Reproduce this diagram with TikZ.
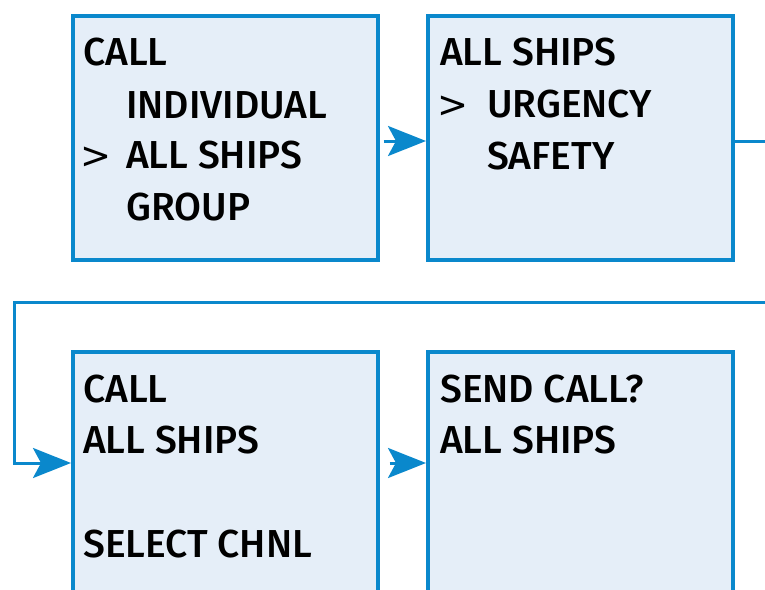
\documentclass[tikz,border=0pt]{standalone}
\usepackage{fontspec}
\setmainfont{Fira Sans}[UprightFont={* Medium}]
\newfontfamily\gtfont{DejaVu Sans}
\usetikzlibrary{arrows.meta}
\definecolor{bline}{HTML}{0A88CC}
\definecolor{bfill}{HTML}{E5EEF8}
\tikzset{
  screen/.style={draw=bline, fill=bfill, line width=3.5pt, rectangle, inner sep=0pt, anchor=north west, minimum width=305pt, minimum height=244pt},
  txt/.style={anchor=base west, inner sep=0pt, font=\fontsize{39}{39}\selectfont},
  gt/.style={anchor=base west, inner sep=0pt, font=\fontsize{37}{37}\selectfont\gtfont},
  conn/.style={draw=bline, line width=3pt},
  arr/.style={conn, -{Stealth[length=38pt, width=30pt, inset=8pt]}}
}
\begin{document}
\begin{tikzpicture}[x=1pt,y=-1pt]
\useasboundingbox (0,0) rectangle (765,589);
\clip (0,0) rectangle (765,589);
% boxes
\node[screen] (b1) at (71,14) {};
\node[screen] (b2) at (426,14) {};
\node[screen] (b3) at (71,350) {};
\node[screen] (b4) at (426,350) {};
% box 1 text
\node[txt] (t11) at (83,65) {CALL};
\node[txt] (t12) at (126,118) {INDIVIDUAL};
\node[gt] (t13) at (80,168) {>};
\node[txt] (t14) at (126,168) {ALL SHIPS};
\node[txt] (t15) at (126,220) {GROUP};
% box 2 text
\node[txt] (t21) at (440,65) {ALL SHIPS};
\node[gt] (t22) at (437,117) {>};
\node[txt] (t23) at (487,117) {URGENCY};
\node[txt] (t24) at (487,169) {SAFETY};
% box 3 text
\node[txt] (t31) at (83,402) {CALL};
\node[txt] (t32) at (83,453) {ALL SHIPS};
\node[txt] (t33) at (83,557) {SELECT CHNL};
% box 4 text
\node[txt] (t41) at (440,402) {SEND CALL?};
\node[txt] (t42) at (440,453) {ALL SHIPS};
% connector helpers
\coordinate (y1) at (0,141);
\coordinate (y3) at (0,463);
\coordinate (e1) at (767,141);
\coordinate (e2) at (767,302);
\coordinate (k1) at (14,302);
\coordinate (k2) at (14,463);
% connectors
\draw[arr, shorten <=4pt] (b1.east |- y1) -- (b2.west |- y1);
\draw[conn] (b2.east |- y1) -- (e1);
\draw[arr] (e2) -- (k1) -- (k2) -- (b3.west |- y3);
\draw[arr, shorten <=10pt] (b3.east |- y3) -- (b4.west |- y3);
\end{tikzpicture}
\end{document}
